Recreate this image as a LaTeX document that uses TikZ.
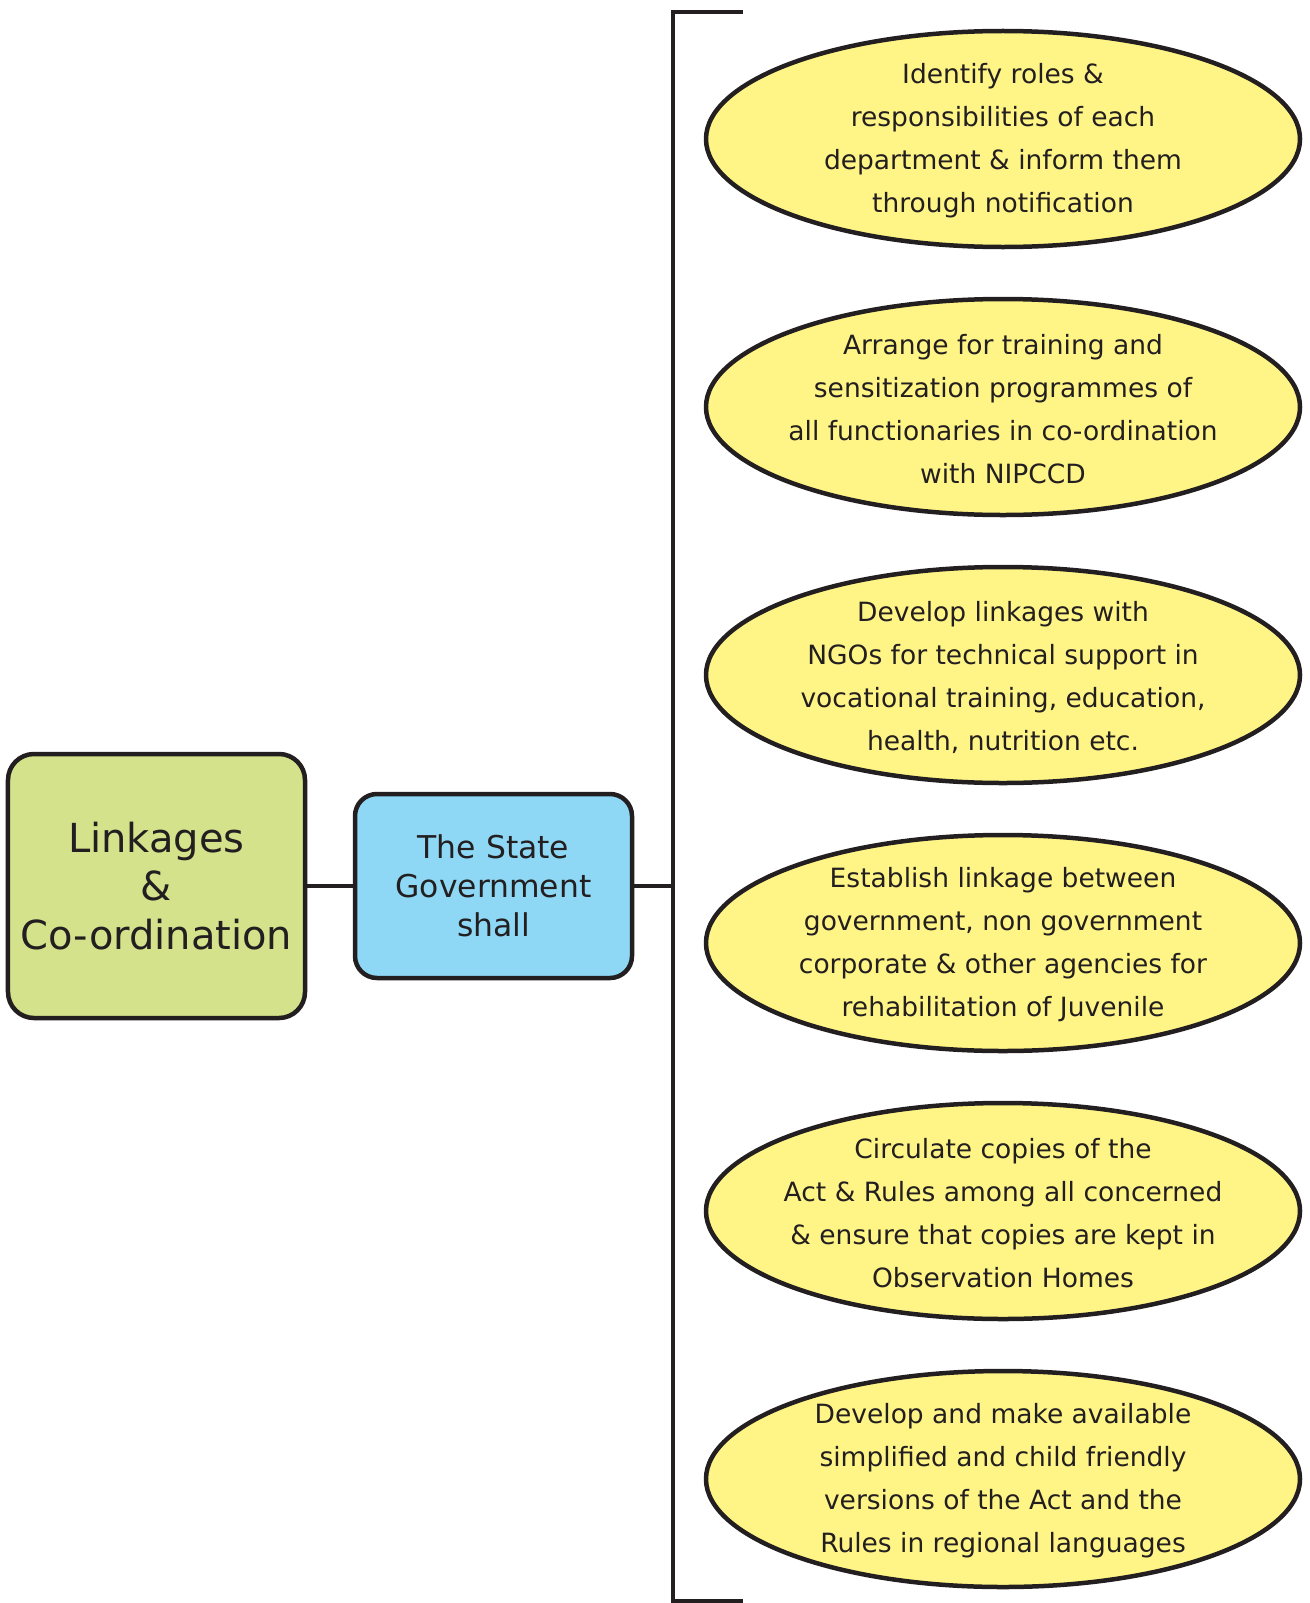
\documentclass[tikz,border=0pt]{standalone}
\usepackage{fontspec}
\setmainfont{DejaVu Sans}
\usetikzlibrary{shapes.geometric}
\definecolor{ink}{HTML}{231F20}
\definecolor{greenfill}{HTML}{D3E28B}
\definecolor{bluefill}{HTML}{8ED8F6}
\definecolor{yellowfill}{HTML}{FFF587}
\begin{document}
\begin{tikzpicture}[x=1bp,y=-1bp,
  rootbox/.style={draw=ink, line width=4.5bp, fill=greenfill, rounded corners=26bp,
    minimum width=297bp, minimum height=264bp, inner sep=0pt, align=center, text=ink,
    font=\fontsize{40bp}{48.6bp}\selectfont},
  govbox/.style={draw=ink, line width=4.5bp, fill=bluefill, rounded corners=22bp,
    minimum width=277bp, minimum height=184bp, inner sep=0pt, align=center, text=ink,
    font=\fontsize{31.4bp}{39bp}\selectfont},
  oval/.style={ellipse, draw=ink, line width=4.5bp, fill=yellowfill,
    minimum width=594bp, minimum height=216bp, inner sep=0pt},
  ovaltext/.style={align=center, text=ink, inner sep=0pt,
    font=\fontsize{26.5bp}{43bp}\selectfont},
  link/.style={draw=ink, line width=4bp}
]
\useasboundingbox (0,0) rectangle (1310,1603);

\node[rootbox] (root) at (156.5,886) {Linkages\\\&\\Co-ordination};
\node[govbox] (gov) at (493.5,886) {The State\\Government\\shall};

\coordinate (jn) at (673,886);
\coordinate (btop) at (673,12);
\coordinate (btopr) at (743,12);
\coordinate (bbot) at (673,1600.5);
\coordinate (bbotr) at (743,1600.5);

\draw[link] (root.east) -- (gov.west);
\draw[link] (gov.east) -- (jn);
\draw[link] (btopr) -- (btop) -- (bbot) -- (bbotr);

\node[oval] (e1) at (1003,139) {};
\node[ovaltext] (t1) at ([yshift=-2bp]e1.center) {Identify roles \&\\responsibilities of each\\department \& inform them\\through notification};

\node[oval] (e2) at (1003,407) {};
\node[ovaltext] (t2) at ([yshift=-2bp]e2.center) {Arrange for training and\\sensitization programmes of\\all functionaries in co-ordination\\with NIPCCD};

\node[oval] (e3) at (1003,675) {};
\node[ovaltext] (t3) at ([yshift=-2bp]e3.center) {Develop linkages with\\NGOs for technical support in\\vocational training, education,\\health, nutrition etc.};

\node[oval] (e4) at (1003,943) {};
\node[ovaltext] (t4) at ([yshift=-2bp]e4.center) {Establish linkage between\\government, non government\\corporate \& other agencies for\\rehabilitation of Juvenile};

\node[oval] (e5) at (1003,1211) {};
\node[ovaltext] (t5) at ([yshift=-2bp]e5.center) {Circulate copies of the\\Act \& Rules among all concerned\\\& ensure that copies are kept in\\Observation Homes};

\node[oval] (e6) at (1003,1479) {};
\node[ovaltext] (t6) at ([yshift=-2bp]e6.center) {Develop and make available\\simplified and child friendly\\versions of the Act and the\\Rules in regional languages};
\end{tikzpicture}
\end{document}
